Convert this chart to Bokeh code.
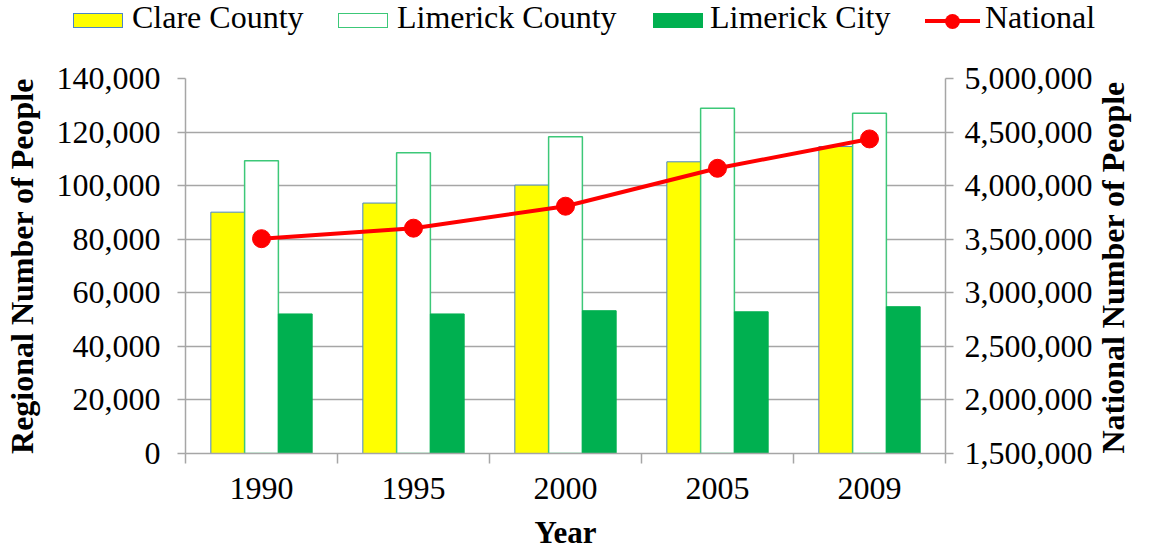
import math
from bokeh.plotting import figure
from bokeh.layouts import column
from bokeh.models import (Range1d, LinearAxis, FixedTicker, NumeralTickFormatter,
                          ColumnDataSource, Div)
from bokeh.transform import dodge
from bokeh.embed import file_html
from bokeh.resources import INLINE

# ---- data ----
years = ["1990", "1995", "2000", "2005", "2009"]
clare_county = [90100, 93500, 100200, 108900, 114600]
limerick_county = [109300, 112300, 118300, 128900, 127000]
limerick_city = [52100, 52100, 53300, 52900, 54800]
national = [3505000, 3603000, 3808000, 4162000, 4436000]
left_ticks = [0, 20000, 40000, 60000, 80000, 100000, 120000, 140000]
right_ticks = [1500000, 2000000, 2500000, 3000000, 3500000, 4000000, 4500000, 5000000]
series_names = ["Clare County", "Limerick County", "Limerick City", "National"]

FONT = "Liberation Serif"
CSS_FONT = "'Liberation Serif', 'Times New Roman', Times, serif"
GRAY = "#A6A6A6"
STYLES = [
    dict(fill_color="#FFFF00", line_color="#4A86C8", line_width=1),
    dict(fill_color="#FFFFFF", line_color="#3CC878", line_width=1.5),
    dict(fill_color="#00B050", line_color="#00B050", line_width=1),
]
RED = "#FF0000"

x_centers = [i + 0.5 for i in range(len(years))]
boundaries = list(range(len(years) + 1))
bw = 1 / 4.5

src = ColumnDataSource(dict(x=x_centers, year=years, clare=clare_county,
                            lcounty=limerick_county, lcity=limerick_city, nat=national))

# ---------------- main chart ----------------
p = figure(width=1151, height=507, x_range=Range1d(0, len(years)),
           y_range=Range1d(left_ticks[0], left_ticks[-1]),
           output_backend="svg", toolbar_location=None,
           min_border_left=183, min_border_right=201, min_border_top=33, min_border_bottom=99)
p.extra_y_ranges = {"nat": Range1d(right_ticks[0], right_ticks[-1])}
p.outline_line_color = None
p.xgrid.visible = False
p.ygrid.grid_line_color = GRAY
p.ygrid.grid_line_width = 1.5

p.vbar(x=dodge("x", -bw), width=bw, top="clare", source=src, **STYLES[0])
p.vbar(x="x", width=bw, top="lcounty", source=src, **STYLES[1])
p.vbar(x=dodge("x", bw), width=bw, top="lcity", source=src, **STYLES[2])
p.line("x", "nat", source=src, y_range_name="nat", line_color=RED, line_width=4)
p.scatter("x", "nat", source=src, y_range_name="nat", size=18,
          fill_color=RED, line_color=RED)

# x axis
xa = p.xaxis[0]
xa.ticker = FixedTicker(ticks=x_centers, minor_ticks=boundaries)
xa.major_label_overrides = {xc: y for xc, y in zip(x_centers, years)}
xa.major_tick_line_color = None
xa.major_tick_out = 0
xa.major_tick_in = 0
xa.minor_tick_line_color = GRAY
xa.minor_tick_line_width = 1.5
xa.minor_tick_in = 0
xa.minor_tick_out = 10
xa.axis_line_color = GRAY
xa.axis_line_width = 1.5
xa.major_label_text_font = FONT
xa.major_label_text_font_size = "32px"
xa.major_label_text_color = "black"
xa.major_label_standoff = 14
xa.axis_label = "Year"
xa.axis_label_text_font = FONT
xa.axis_label_text_font_style = "bold"
xa.axis_label_text_font_size = "31px"
xa.axis_label_text_color = "black"
xa.axis_label_standoff = 13


def style_y(ax, label_standoff, title_standoff):
    ax.major_tick_line_color = GRAY
    ax.major_tick_line_width = 1.5
    ax.major_tick_in = 0
    ax.major_tick_out = 8
    ax.minor_tick_line_color = None
    ax.axis_line_color = GRAY
    ax.axis_line_width = 1.5
    ax.major_label_text_font = FONT
    ax.major_label_text_font_size = "32px"
    ax.major_label_text_color = "black"
    ax.major_label_standoff = label_standoff
    ax.axis_label_text_font = FONT
    ax.axis_label_text_font_style = "bold"
    ax.axis_label_text_font_size = "32px"
    ax.axis_label_text_color = "black"
    ax.axis_label_standoff = title_standoff


ya = p.yaxis[0]
ya.ticker = FixedTicker(ticks=left_ticks)
ya.formatter = NumeralTickFormatter(format="0,0")
style_y(ya, 17, 14)
ya.axis_label = "Regional Number of People"

ra = LinearAxis(y_range_name="nat", ticker=FixedTicker(ticks=right_ticks),
                formatter=NumeralTickFormatter(format="0,0"),
                axis_label="National Number of People")
style_y(ra, 11, 17)
ra.axis_label_orientation = math.pi / 2
if "axis_label_align" in ra.properties():
    ra.axis_label_align = "start"
p.add_layout(ra, "right")

# ---------------- legend strip on top ----------------
key_left = [73, 338, 653, 925]      # key glyph left edges (px)
text_left = [132, 397, 710, 985]    # label left edges (px)
font_css = f"font-family:{CSS_FONT};font-size:32px;color:black;"
parts = []
for i, name in enumerate(series_names):
    if i < 3:
        st = STYLES[i]
        parts.append(
            f'<span style="position:absolute;left:{key_left[i]}px;top:13px;width:50px;height:15px;'
            f'background:{st["fill_color"]};border:{st["line_width"]}px solid {st["line_color"]};"></span>')
    else:
        parts.append(
            f'<span style="position:absolute;left:{key_left[i]}px;top:19px;width:55px;height:4px;'
            f'background:{RED};"></span>'
            f'<span style="position:absolute;left:{key_left[i] + 20}px;top:14px;width:15px;height:15px;'
            f'border-radius:50%;background:{RED};"></span>')
    parts.append(
        f'<span style="position:absolute;left:{text_left[i]}px;top:1px;line-height:32px;'
        f'white-space:nowrap;{font_css}">{name}</span>')

legend_html = (f'<div style="position:relative;width:1151px;height:45px;{font_css}">'
               + "".join(parts) + '</div>')
legend_div = Div(text=legend_html, width=1151, height=45, margin=0,
                 styles={"font-family": CSS_FONT, "font-size": "32px", "color": "black"})

layout = column(legend_div, p, spacing=0)
open("out.html", "w").write(file_html(layout, INLINE))
